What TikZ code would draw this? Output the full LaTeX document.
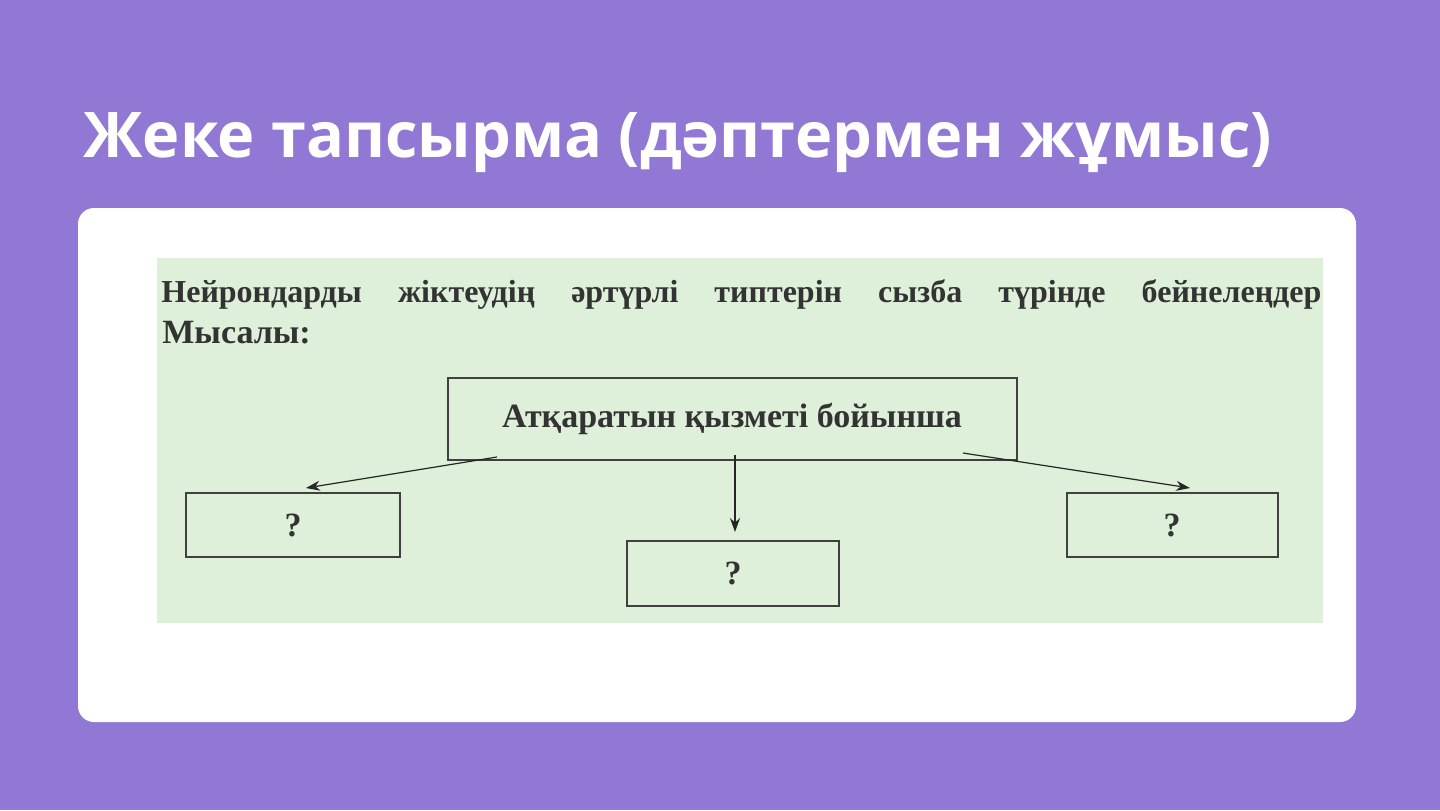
\documentclass[tikz,border=0pt]{standalone}
\usepackage{fontspec}
\usetikzlibrary{arrows.meta}
\setmainfont{Liberation Serif}
\newfontfamily\titlefont{Open Sans}
\begin{document}
\begin{tikzpicture}[x=0.5pt,y=-0.5pt,
  box/.style={draw=black!75,line width=1.2pt,fill=none,inner sep=0},
  lbl/.style={font=\fontsize{17}{19}\selectfont\bfseries,text=black!80},
  arr/.style={draw=black!85,line width=0.6pt,-{Stealth[length=7pt,width=5pt]}}]
\definecolor{bgp}{HTML}{9178D4}
\definecolor{grn}{HTML}{DEEFDA}
\fill[bgp] (0,0) rectangle (1440,810);
\useasboundingbox (0,0) rectangle (1440,810);
\fill[white,rounded corners=8pt] (78,208) rectangle (1356,722);
\fill[grn] (157,258) rectangle (1323,623);
\node[anchor=base west,text=white,inner sep=0,font=\titlefont\fontsize{31.5}{34}\selectfont\bfseries] (title) at (83,157) {Жеке тапсырма (дәптермен жұмыс)};
\node[anchor=base west,inner sep=0,lbl,font=\fontsize{16}{18}\selectfont\bfseries] (q) at (161,302) {\makebox[580pt][s]{Нейрондарды жіктеудің әртүрлі типтерін сызба түрінде бейнелеңдер}};
\node[anchor=base west,inner sep=0,lbl] (ex) at (162,343) {Мысалы:};
\draw[box] (448,378) rectangle (1017,460);
\node[lbl] (top) at (732,419) {Атқаратын қызметі бойынша};
\draw[box] (186,493) rectangle (400,557);
\node[lbl] (l) at (293,525) {?};
\draw[box] (627,541) rectangle (839,606);
\node[lbl] (m) at (733,573) {?};
\draw[box] (1067,493) rectangle (1278,557);
\node[lbl] (r) at (1172,525) {?};
\coordinate (a1) at (497,457); \coordinate (b1) at (306,488);
\coordinate (a2) at (735,455); \coordinate (b2) at (735,532);
\coordinate (a3) at (963,453); \coordinate (b3) at (1190,488);
\draw[arr] (a1) -- (b1);
\draw[arr] (a2) -- (b2);
\draw[arr] (a3) -- (b3);
\end{tikzpicture}
\end{document}
